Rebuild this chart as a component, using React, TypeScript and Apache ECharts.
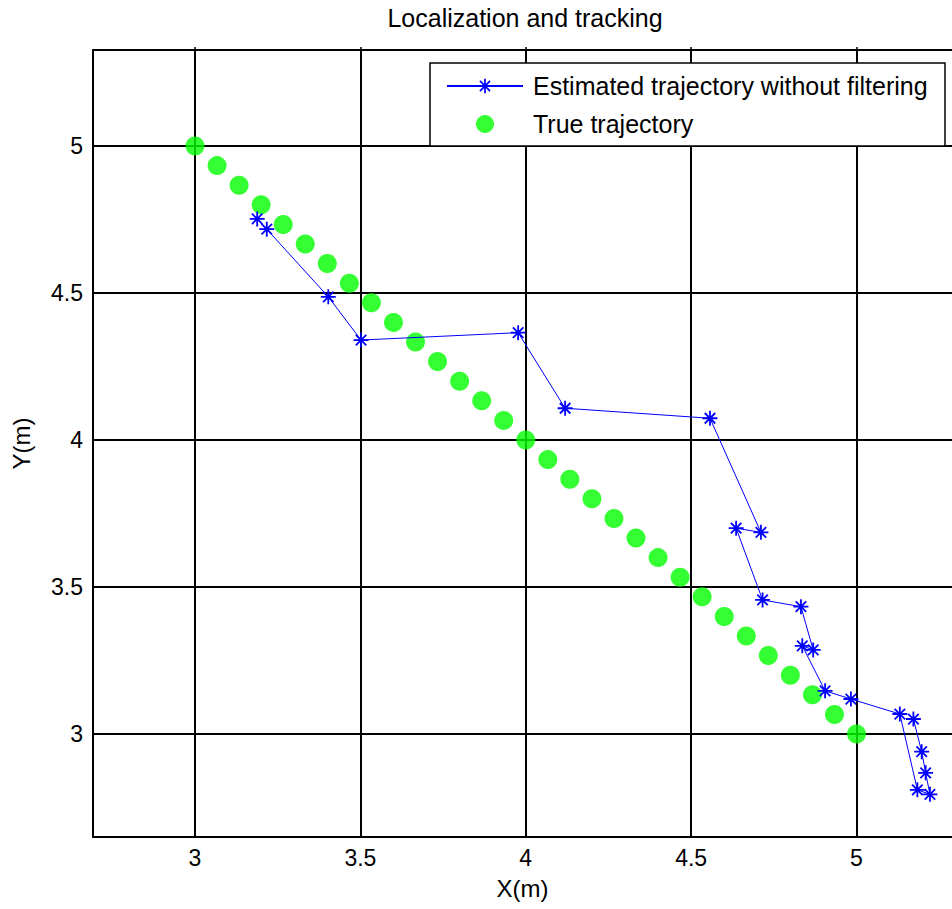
import React, { useEffect, useRef } from "react";
import * as echarts from "echarts";

const titleText = "Localization and tracking";
const xName = "X(m)";
const yName = "Y(m)";
const estName = "Estimated trajectory without filtering";
const trueName = "True trajectory";

const xTicks = [3, 3.5, 4, 4.5, 5];
const yTicks = [3, 3.5, 4, 4.5, 5];
const X_MIN = 2.6916;
const X_MAX = 5.2887;
const Y_MIN = 2.6497;
const Y_MAX = 5.3265;

const trueX = [3, 3.0667, 3.1333, 3.2, 3.2667, 3.3333, 3.4, 3.4667, 3.5333, 3.6, 3.6667, 3.7333, 3.8, 3.8667, 3.9333, 4, 4.0667, 4.1333, 4.2, 4.2667, 4.3333, 4.4, 4.4667, 4.5333, 4.6, 4.6667, 4.7333, 4.8, 4.8667, 4.9333, 5];
const trueY = [5, 4.9333, 4.8667, 4.8, 4.7333, 4.6667, 4.6, 4.5333, 4.4667, 4.4, 4.3333, 4.2667, 4.2, 4.1333, 4.0667, 4, 3.9333, 3.8667, 3.8, 3.7333, 3.6667, 3.6, 3.5333, 3.4667, 3.4, 3.3333, 3.2667, 3.2, 3.1333, 3.0667, 3];

const estX = [3.188, 3.217, 3.403, 3.502, 3.977, 4.119, 4.557, 4.711, 4.636, 4.716, 4.832, 4.869, 4.836, 4.905, 4.983, 5.131, 5.184, 5.222, 5.209, 5.197, 5.172];
const estY = [4.752, 4.717, 4.487, 4.340, 4.365, 4.108, 4.074, 3.686, 3.700, 3.456, 3.433, 3.286, 3.300, 3.147, 3.119, 3.068, 2.810, 2.795, 2.868, 2.940, 3.051];

const FONT = "'Liberation Sans', Arial, Helvetica, sans-serif";

const STAR =
  "path://M8.8 0L11.2 0L11.2 20L8.8 20Z" +
  "M0 8.8L20 8.8L20 11.2L0 11.2Z" +
  "M3.849 2.151L17.849 16.151L16.151 17.849L2.151 3.849Z" +
  "M17.849 3.849L3.849 17.849L2.151 16.151L16.151 2.151Z";

export default function App() {
  const ref = useRef<HTMLDivElement>(null);
  useEffect(() => {
    if (!ref.current) return;
    const chart = echarts.init(ref.current, null, { renderer: "svg" });
    const trueData = trueX.map((x, i) => [x, trueY[i]]);
    const estData = estX.map((x, i) => [x, estY[i]]);
    const axisLbl = { color: "#000", fontFamily: FONT, fontSize: 23 };
    chart.setOption({
      animation: false,
      backgroundColor: "#fff",
      title: {
        text: titleText,
        left: 525,
        top: 5,
        textAlign: "center",
        padding: 0,
        textStyle: { color: "#000", fontFamily: FONT, fontSize: 25, fontWeight: "normal" },
      },
      legend: {
        orient: "vertical",
        left: 446,
        top: 73,
        padding: 0,
        itemGap: 12,
        itemWidth: 76,
        itemHeight: 18,
        selectedMode: false,
        z: 10,
        textStyle: { color: "#000", fontFamily: FONT, fontSize: 25, lineHeight: 26, padding: [0, 0, 0, 5] },
        data: [{ name: estName }, { name: trueName }],
      },
      graphic: [
        {
          type: "rect",
          z: 5,
          shape: { x: 430, y: 63, width: 515, height: 83 },
          style: { fill: "#fff", stroke: "#000", lineWidth: 1.5 },
        },
      ],
      grid: { left: 93, top: 50, right: 0, bottom: 72 },
      xAxis: [
        {
          type: "value",
          position: "bottom",
          min: X_MIN,
          max: X_MAX,
          name: xName,
          nameLocation: "middle",
          nameGap: 39,
          nameTextStyle: { color: "#000", fontFamily: FONT, fontSize: 24 },
          axisLine: { show: true, onZero: false, lineStyle: { color: "#000", width: 2 } },
          axisTick: { show: false, customValues: xTicks },
          axisLabel: { ...axisLbl, margin: 9, customValues: xTicks },
          splitLine: { show: true, lineStyle: { color: "#000", width: 2 } },
        },
        {
          type: "value",
          position: "top",
          min: X_MIN,
          max: X_MAX,
          axisLine: { show: true, onZero: false, lineStyle: { color: "#000", width: 2 } },
          axisTick: { show: true, inside: false, length: 3, customValues: xTicks, lineStyle: { color: "#000", width: 1.5 } },
          axisLabel: { show: false },
          splitLine: { show: false },
        },
      ],
      yAxis: {
        type: "value",
        position: "left",
        min: Y_MIN,
        max: Y_MAX,
        name: yName,
        nameLocation: "middle",
        nameGap: 60,
        nameTextStyle: { color: "#000", fontFamily: FONT, fontSize: 24 },
        axisLine: { show: true, onZero: false, lineStyle: { color: "#000", width: 2 } },
        axisTick: { show: false, customValues: yTicks },
        axisLabel: { ...axisLbl, margin: 10, customValues: yTicks },
        splitLine: { show: true, lineStyle: { color: "#000", width: 2 } },
      },
      series: [
        {
          name: trueName,
          type: "scatter",
          data: trueData,
          symbol: "circle",
          symbolSize: 19,
          itemStyle: { color: "#00ff00" },
          z: 2,
        },
        {
          name: estName,
          type: "line",
          data: estData,
          symbol: STAR,
          symbolSize: 15,
          showSymbol: true,
          itemStyle: { color: "#0000ff" },
          lineStyle: { color: "#0000ff", width: 1 },
          z: 3,
        },
      ],
    });
    return () => chart.dispose();
  }, []);
  return (
    <div
      ref={ref}
      style={{ position: "absolute", left: 0, top: 0, width: 952, height: 909 }}
    />
  );
}
